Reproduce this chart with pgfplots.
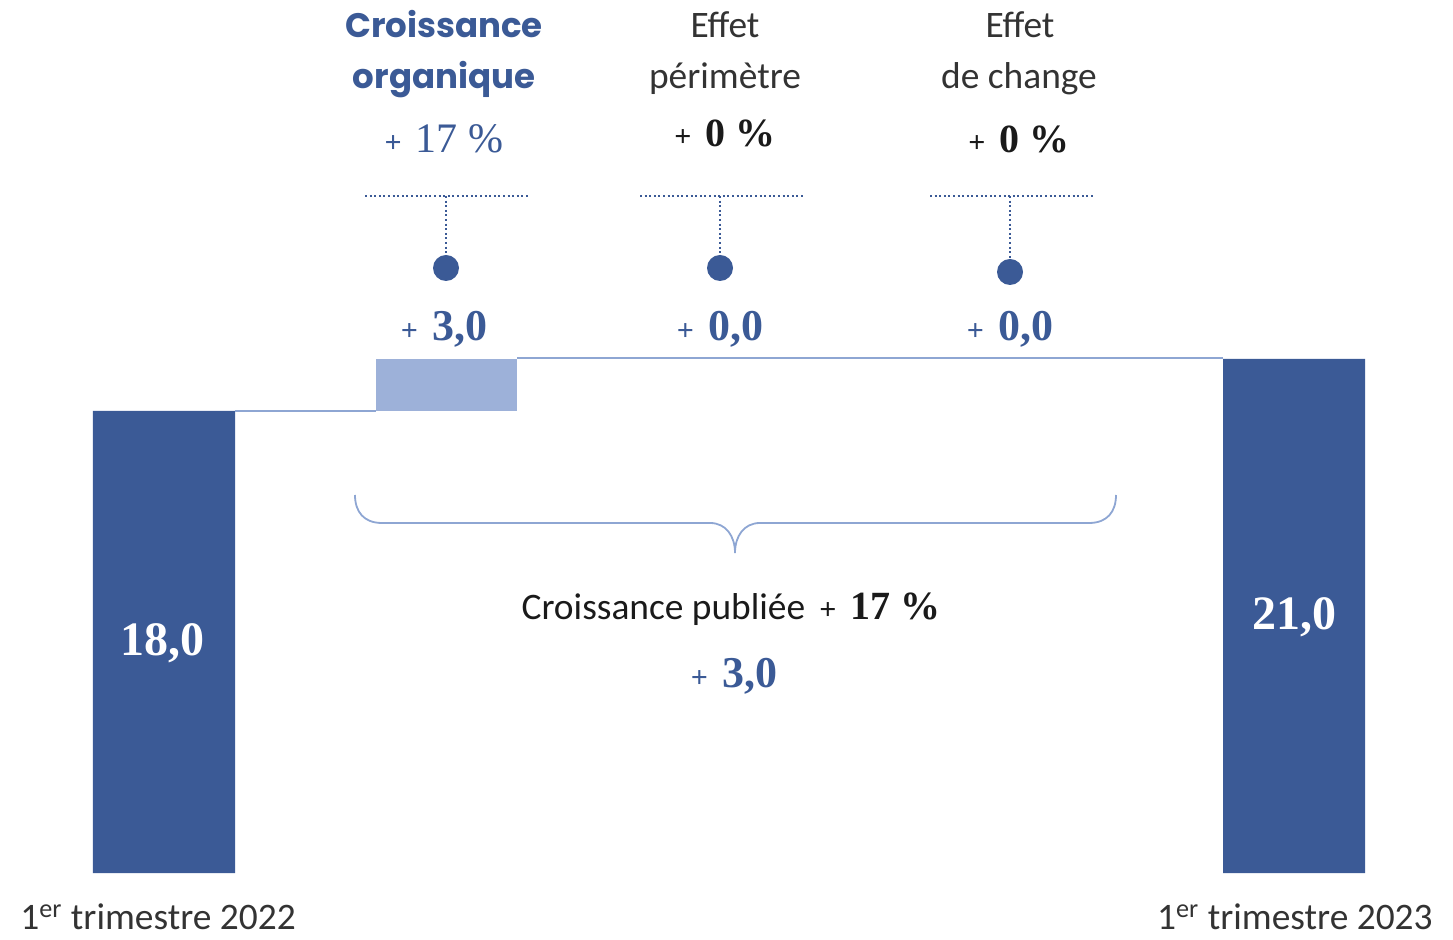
\documentclass[border=0pt]{standalone}
\usepackage{pgfplots}
\pgfplotsset{compat=1.18}
\usepackage{fontspec}
\setmainfont{Carlito}
\newfontfamily\tnr{Liberation Serif}
\newfontfamily\pop{Poppins}
\definecolor{dblue}{RGB}{59,90,150}
\definecolor{lblue}{RGB}{157,177,217}
\definecolor{lineblue}{RGB}{142,166,211}
\definecolor{txtgray}{RGB}{51,51,51}
\definecolor{txtblack}{RGB}{26,26,26}
\newcommand{\plusf}{\tnr\bfseries\fontsize{15}{15}\selectfont}
\newcommand{\cf}{\fontsize{18.7}{18.7}\selectfont}
\begin{document}
\begin{tikzpicture}[x=0.5pt,y=-0.5pt]
\path[use as bounding box] (0,0) rectangle (1453,940);
\begin{axis}[at={(0pt,-470pt)}, anchor=south west,
  width=726.5pt, height=470pt, scale only axis, hide axis, clip=false,
  xmin=-0.58053, xmax=4.56283, ymin=-12.519, ymax=41.712,
  y coord trafo/.code={\pgfmathparse{#1+8.654}},
  y coord inv trafo/.code={\pgfmathparse{#1-8.654}}]
% totals
\addplot[ybar, bar width=0.5027, fill=dblue, draw=none] coordinates {(0,18) (4,21)};
% organic growth (floating bar 18 -> 21)
\addplot[fill=lblue, draw=none] coordinates {(0.7487,18) (1.2513,18) (1.2513,21) (0.7487,21)} -- cycle;
% connectors
\addplot[lineblue, line width=1pt] coordinates {(0.2513,18) (0.7487,18)};
\addplot[lineblue, line width=1pt] coordinates {(1.2513,21.05) (3.7487,21.05)};
\end{axis}
% guides and dots
\begin{scope}[dblue, line width=1pt, dash pattern=on 1pt off 1.3pt]
\draw (365,196) -- (528,196); \draw (446,196) -- (446,258);
\draw (640,196) -- (803,196); \draw (720,196) -- (720,258);
\draw (930,196) -- (1093,196); \draw (1010,196) -- (1010,262);
\end{scope}
\fill[dblue] (446,268) circle (6.5pt);
\fill[dblue] (720,268) circle (6.5pt);
\fill[dblue] (1010,272) circle (6.5pt);
% brace
\draw[lineblue, line width=0.9pt] (355,495) .. controls (355,512) and (364,523) .. (382,523) -- (710,523)
  .. controls (726,523) and (735,536) .. (735,553)
  .. controls (735,536) and (744,523) .. (760,523) -- (1089,523)
  .. controls (1107,523) and (1116,512) .. (1116,495);
% header texts
\node[anchor=base, dblue, font=\pop\bfseries\fontsize{17}{17}\selectfont, inner sep=0] at (444,38) {Croissance};
\node[anchor=base, dblue, font=\pop\bfseries\fontsize{17}{17}\selectfont, inner sep=0] at (444,89) {organique};
\node[anchor=base, txtgray, font=\cf, inner sep=0] at (725,38) {Effet};
\node[anchor=base, txtgray, font=\cf, inner sep=0] at (725,89) {périmètre};
\node[anchor=base, txtgray, font=\cf, inner sep=0] at (1020,38) {Effet};
\node[anchor=base, txtgray, font=\cf, inner sep=0] at (1019,89) {de change};
% percentages
\node[anchor=base, dblue, inner sep=0] at (444,153) {{\plusf +}\hspace{7pt}{\tnr\fontsize{21}{21}\selectfont 17 \%}};
\node[anchor=base, txtblack, inner sep=0] at (725,147) {{\plusf +}\hspace{7pt}{\tnr\bfseries\fontsize{20}{20}\selectfont 0 \%}};
\node[anchor=base, txtblack, inner sep=0] at (1019,153) {{\plusf +}\hspace{7pt}{\tnr\bfseries\fontsize{20}{20}\selectfont 0 \%}};
% variation values
\node[anchor=base, dblue, inner sep=0] at (444,341) {{\plusf +}\hspace{7pt}{\tnr\bfseries\fontsize{22}{22}\selectfont 3,0}};
\node[anchor=base, dblue, inner sep=0] at (720,341) {{\plusf +}\hspace{7pt}{\tnr\bfseries\fontsize{22}{22}\selectfont 0,0}};
\node[anchor=base, dblue, inner sep=0] at (1010,341) {{\plusf +}\hspace{7pt}{\tnr\bfseries\fontsize{22}{22}\selectfont 0,0}};
% bar values
\node[anchor=base, white, inner sep=0, font=\tnr\bfseries\fontsize{24}{24}\selectfont] at (162,656) {18,0};
\node[anchor=base, white, inner sep=0, font=\tnr\bfseries\fontsize{24}{24}\selectfont] at (1294,630) {21,0};
% published growth
\node[anchor=base, inner sep=0] at (731,620) {{\color{txtblack}\cf Croissance publiée}\hspace{7pt}{\color{txtblack}\plusf +}\hspace{7pt}{\color{txtblack}\tnr\bfseries\fontsize{20}{20}\selectfont 17 \%}};
\node[anchor=base, dblue, inner sep=0] at (734,688) {{\plusf +}\hspace{7pt}{\tnr\bfseries\fontsize{22}{22}\selectfont 3,0}};
% bottom labels
\node[anchor=base west, txtgray, inner sep=0, text depth=0pt, font=\cf] at (20,930) {1\textsuperscript{er} trimestre 2022};
\node[anchor=base east, txtgray, inner sep=0, text depth=0pt, font=\cf] at (1433,930) {1\textsuperscript{er} trimestre 2023};
\end{tikzpicture}
\end{document}
